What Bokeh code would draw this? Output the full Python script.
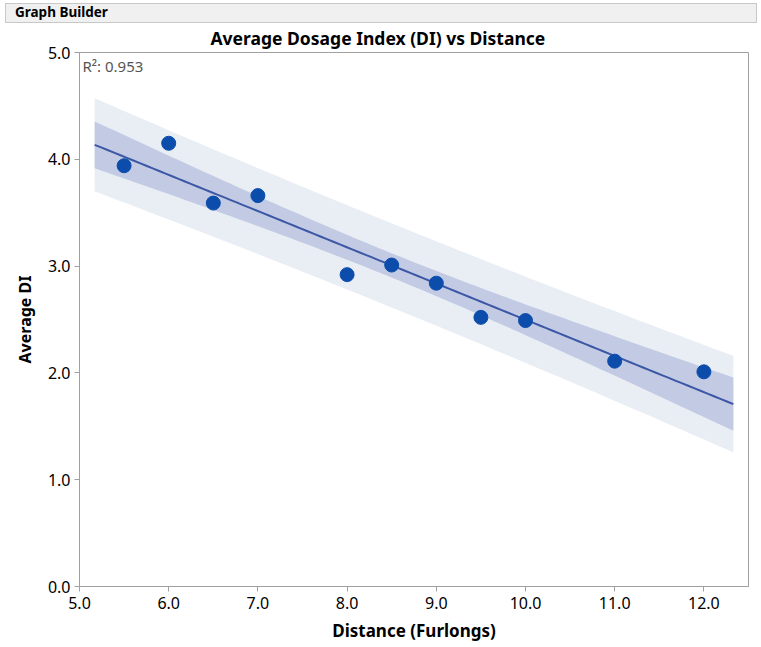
import numpy as np
from bokeh.plotting import figure
from bokeh.models import (ColumnDataSource, Label, Div, Range1d, FixedTicker,
                          NumeralTickFormatter, Title)
from bokeh.layouts import column
from bokeh.embed import file_html
from bokeh.resources import INLINE

# ---- data ----
distance = [5.5, 6.0, 6.5, 7.0, 8.0, 8.5, 9.0, 9.5, 10.0, 11.0, 12.0]
avg_di = [3.94, 4.15, 3.59, 3.66, 2.92, 3.01, 2.84, 2.52, 2.49, 2.11, 2.01]
x_ticks = [5, 6, 7, 8, 9, 10, 11, 12]
y_ticks = [0, 1, 2, 3, 4, 5]
fit_span = [5.17, 12.33]
r2_text = "R²: 0.953"
title_text = "Average Dosage Index (DI) vs Distance"
x_label = "Distance (Furlongs)"
y_label = "Average DI"
t_crit = 2.262  # t(0.975, df=9)

# ---- fit ----
x = np.array(distance)
y = np.array(avg_di)
n = len(x)
b1, b0 = np.polyfit(x, y, 1)
resid = y - (b0 + b1 * x)
s = np.sqrt(np.sum(resid ** 2) / (n - 2))
sxx = np.sum((x - x.mean()) ** 2)
xf = np.linspace(fit_span[0], fit_span[1], 100)
yf = b0 + b1 * xf
se_mean = s * np.sqrt(1.0 / n + (xf - x.mean()) ** 2 / sxx)
se_pred = s * np.sqrt(1.0 + 1.0 / n + (xf - x.mean()) ** 2 / sxx)
fit_src = ColumnDataSource(dict(
    x=xf, y=yf,
    cl=yf - t_crit * se_mean, cu=yf + t_crit * se_mean,
    pl=yf - t_crit * se_pred, pu=yf + t_crit * se_pred,
))
pts = ColumnDataSource(dict(x=distance, y=avg_di))

FONT = "Noto Sans"

header = Div(text="Graph Builder", width=752, height=20, margin=(3, 0, -3, 5),
             styles={"background-color": "#F0F0F0", "border": "1px solid #C8C8C8",
                     "font-family": FONT, "font-weight": "bold", "font-size": "13.5px",
                     "line-height": "17px", "padding-left": "9px",
                     "box-sizing": "border-box", "color": "#000000"})

p = figure(width=753, height=624, output_backend="svg", toolbar_location=None,
           x_range=Range1d(5.0, 12.5), y_range=Range1d(0.0, 5.0),
           min_border_left=79, min_border_right=5, min_border_top=29,
           min_border_bottom=56)
p.border_fill_color = None
p.title = Title(text=title_text, align="left", text_font=FONT,
                text_font_size="17.5px", text_font_style="bold", standoff=6,
                offset=131, text_color="#000000")

p.varea(x="x", y1="pl", y2="pu", source=fit_src, fill_color="#E9EEF5")
p.varea(x="x", y1="cl", y2="cu", source=fit_src, fill_color="#C2CBE3")
p.line(x="x", y="y", source=fit_src, line_color="#3C57A6", line_width=2)
p.scatter(x="x", y="y", source=pts, size=14, fill_color="#0C4DAC",
          line_color="#0C4DAC")

p.add_layout(Label(x=5.0, y=5.0, x_offset=3, y_offset=-3, text=r2_text,
                   text_baseline="top", text_font=FONT, text_font_size="15px",
                   text_color="#555555"))

p.xgrid.visible = False
p.ygrid.visible = False
p.outline_line_color = "#A0A0A0"
p.background_fill_color = "#FFFFFF"

for ax in (p.xaxis[0], p.yaxis[0]):
    ax.axis_line_color = "#A0A0A0"
    ax.major_tick_line_color = "#A0A0A0"
    ax.major_tick_out = 5
    ax.major_tick_in = 0
    ax.minor_tick_line_color = None
    ax.major_label_text_font = FONT
    ax.major_label_text_font_size = "16px"
    ax.major_label_text_color = "#000000"
    ax.axis_label_text_font = FONT
    ax.axis_label_text_font_style = "bold"
    ax.axis_label_text_color = "#000000"
    ax.formatter = NumeralTickFormatter(format="0.0")

p.xaxis.ticker = FixedTicker(ticks=x_ticks)
p.yaxis.ticker = FixedTicker(ticks=y_ticks)
p.xaxis.axis_label = x_label
p.yaxis.axis_label = y_label
p.xaxis.axis_label_text_font_size = "17px"
p.yaxis.axis_label_text_font_size = "16px"
p.xaxis.major_label_standoff = 5
p.yaxis.major_label_standoff = 4
p.xaxis.axis_label_standoff = 7
p.yaxis.axis_label_standoff = 9

layout = column(header, p, spacing=0)
open("out.html", "w").write(file_html(layout, INLINE))
